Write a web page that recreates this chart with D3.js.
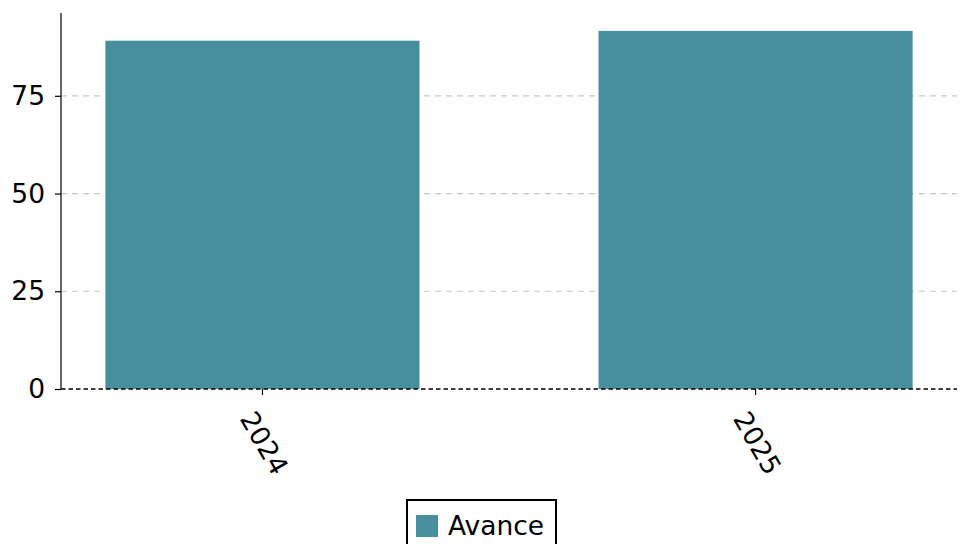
<!DOCTYPE html>
<html>
<head>
<meta charset="utf-8">
<script src="https://cdn.jsdelivr.net/npm/d3@7"></script>
<style>
  body { margin: 0; background: #fff; }
  svg text { font-family: "DejaVu Sans", sans-serif; fill: #000; }
</style>
</head>
<body>
<div id="chart_div"></div>
<script>
//------------------------DATA-------------------------//
const years = ["2024", "2025"];
const avance = [89.1, 91.6];
const yTicks = [0, 25, 50, 75];
const seriesName = "Avance";

//------------------------SVG--------------------------//
const W = 967, H = 544;
const plotLeft = 61, plotRight = 957, plotTop = 13, plotBottom = 389;
const barColor = "#478f9c";
const fontSize = "26.5px";

const svg = d3.select("#chart_div").append("svg")
  .attr("width", W)
  .attr("height", H);

//-----------------------SCALES------------------------//
const x = d3.scaleBand()
  .domain(years)
  .range([plotLeft, plotRight])
  .paddingInner(0.363)
  .paddingOuter(0.09);

const y = d3.scaleLinear()
  .domain([0, d3.max(avance) * 1.05])
  .range([plotBottom, plotTop]);

// grid lines (behind bars)
svg.append("g")
  .selectAll("line")
  .data(yTicks.filter(d => d > 0))
  .enter().append("line")
  .attr("x1", plotLeft).attr("x2", plotRight)
  .attr("y1", d => y(d)).attr("y2", d => y(d))
  .attr("stroke", "#c8c8c8")
  .attr("stroke-width", 1.2)
  .attr("stroke-dasharray", "6,5");

//------------------------BARS-------------------------//
svg.append("g")
  .selectAll("rect")
  .data(years.map((yr, i) => ({ yr, v: avance[i] })))
  .enter().append("rect")
  .attr("x", d => x(d.yr))
  .attr("width", x.bandwidth())
  .attr("y", d => y(d.v))
  .attr("height", d => y(0) - y(d.v))
  .attr("fill", barColor);

// zero line
svg.append("line")
  .attr("x1", plotLeft).attr("x2", plotRight)
  .attr("y1", y(0)).attr("y2", y(0))
  .attr("stroke", "#000")
  .attr("stroke-width", 1.3)
  .attr("stroke-dasharray", "4.5,3");

//------------------------AXES-------------------------//
const yaxis = d3.axisLeft(y)
  .tickValues(yTicks)
  .tickSize(6)
  .tickPadding(10)
  .tickFormat(d3.format("d"));

const gy = svg.append("g")
  .attr("transform", `translate(${plotLeft},0)`)
  .call(yaxis);
gy.select(".domain").remove();
gy.selectAll(".tick line").attr("stroke", "#000").attr("stroke-width", 1.2);
gy.selectAll(".tick text").style("font-size", fontSize).style("font-family", "DejaVu Sans");

svg.append("line")
  .attr("x1", plotLeft).attr("x2", plotLeft)
  .attr("y1", plotTop).attr("y2", plotBottom)
  .attr("stroke", "#000")
  .attr("stroke-width", 1.2);

const xaxis = d3.axisBottom(x)
  .tickSize(6)
  .tickPadding(0)
  .tickFormat(d => d);

const gx = svg.append("g")
  .attr("transform", `translate(0,${plotBottom})`)
  .call(xaxis);
gx.select(".domain").remove();
gx.selectAll(".tick line").attr("stroke", "#000").attr("stroke-width", 1.2);
gx.selectAll(".tick text")
  .style("font-size", fontSize)
  .style("font-family", "DejaVu Sans")
  .attr("text-anchor", "middle")
  .attr("dominant-baseline", "central")
  .attr("x", 2)
  .attr("y", 54)
  .attr("dy", null)
  .attr("transform", "rotate(60, 2, 54)");

//-----------------------LEGEND------------------------//
const legend = svg.append("g");
legend.append("rect")
  .attr("x", 407).attr("y", 500)
  .attr("width", 149).attr("height", 60)
  .attr("fill", "#fff")
  .attr("stroke", "#000")
  .attr("stroke-width", 2);
legend.append("rect")
  .attr("x", 416).attr("y", 515)
  .attr("width", 22).attr("height", 22)
  .attr("fill", barColor);
legend.append("text")
  .attr("x", 448).attr("y", 535)
  .style("font-size", fontSize)
  .text(seriesName);
</script>
</body>
</html>
